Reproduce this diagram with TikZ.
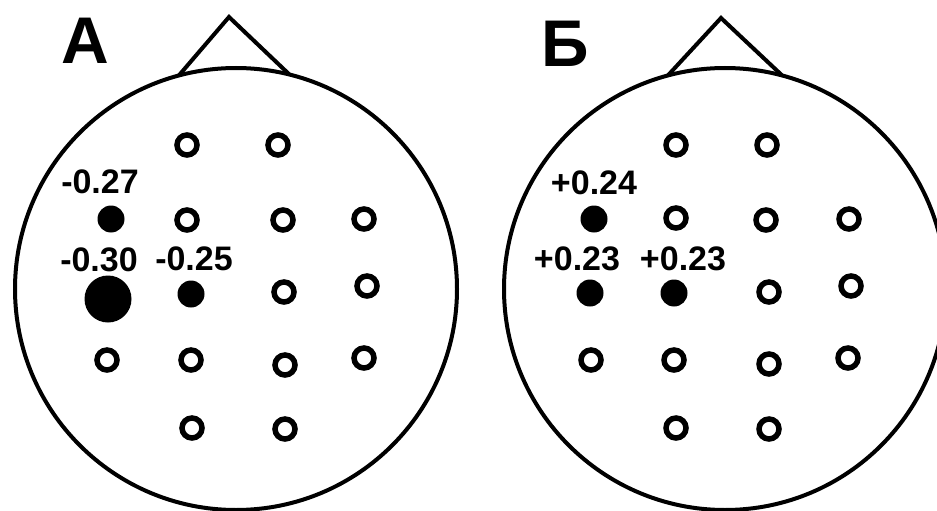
\documentclass[tikz,border=0pt]{standalone}
\usepackage{fontspec}
\setsansfont{Liberation Sans}

\begin{document}
\begin{tikzpicture}[
  x=1pt, y=-1pt,
  font=\sffamily\bfseries,
  head/.style={
    circle,
    draw=black,
    line width=4pt,
    minimum size=442pt,
    inner sep=0pt,
    outer sep=0pt
  },
  noseline/.style={
    draw=black,
    line width=4pt,
    line join=miter
  },
  openel/.style={
    circle,
    draw=black,
    line width=5.5pt,
    minimum size=20pt,
    inner sep=0pt
  },
  fullel/.style={
    circle,
    fill=black,
    minimum size=27pt,
    inner sep=0pt
  },
  bigel/.style={
    circle,
    fill=black,
    minimum size=47pt,
    inner sep=0pt
  },
  corrlabel/.style={
    font=\fontsize{34}{36}\sffamily\bfseries,
    inner sep=0pt
  },
  panellabel/.style={
    font=\fontsize{66}{70}\sffamily\bfseries,
    inner sep=0pt
  }
]

  \clip (0,0) rectangle (937,511);

  % --- PANEL A ---
  \node[head] (headA) at (236,289) {};
  \coordinate (noseA) at (229,17);
  \draw[noseline] (headA.105.8) -- (noseA) -- (headA.76.2);
  \node[panellabel] (titleA) at (85,41) {А};

  \foreach \x/\y [count=\i] in {187/145, 278/145, 187/220, 283/220, 364/219,
      284/292, 367/286, 107/360, 191/360, 285/365, 364/358, 192/428, 285/429}
    \node[openel] (A-\i) at (\x,\y) {};

  \node[fullel] (A-f1) at (111,219) {};
  \node[bigel]  (A-f2) at (108,299) {};
  \node[fullel] (A-f3) at (191,294) {};

  \node[corrlabel] (A-l1) at (100,182) {-0.27};
  \node[corrlabel] (A-l2) at (99,260) {-0.30};
  \node[corrlabel] (A-l3) at (194,259) {-0.25};

  % --- PANEL B ---
  \node[head] (headB) at (725,289) {};
  \coordinate (noseB) at (721,18);
  \draw[noseline] (headB.105.3) -- (noseB) -- (headB.75.8);
  \node[panellabel] (titleB) at (565,44) {Б};

  \foreach \x/\y [count=\i] in {676/145, 767/145, 676/218, 766/220, 849/219,
      769/292, 851/286, 591/360, 674/360, 769/364, 848/358, 676/428, 769/429}
    \node[openel] (B-\i) at (\x,\y) {};

  \node[fullel] (B-f1) at (594,219) {};
  \node[fullel] (B-f2) at (590,293) {};
  \node[fullel] (B-f3) at (674,293) {};

  \node[corrlabel] (B-l1) at (594,183) {+0.24};
  \node[corrlabel] (B-l2) at (577,259) {+0.23};
  \node[corrlabel] (B-l3) at (683,259) {+0.23};

\end{tikzpicture}
\end{document}
